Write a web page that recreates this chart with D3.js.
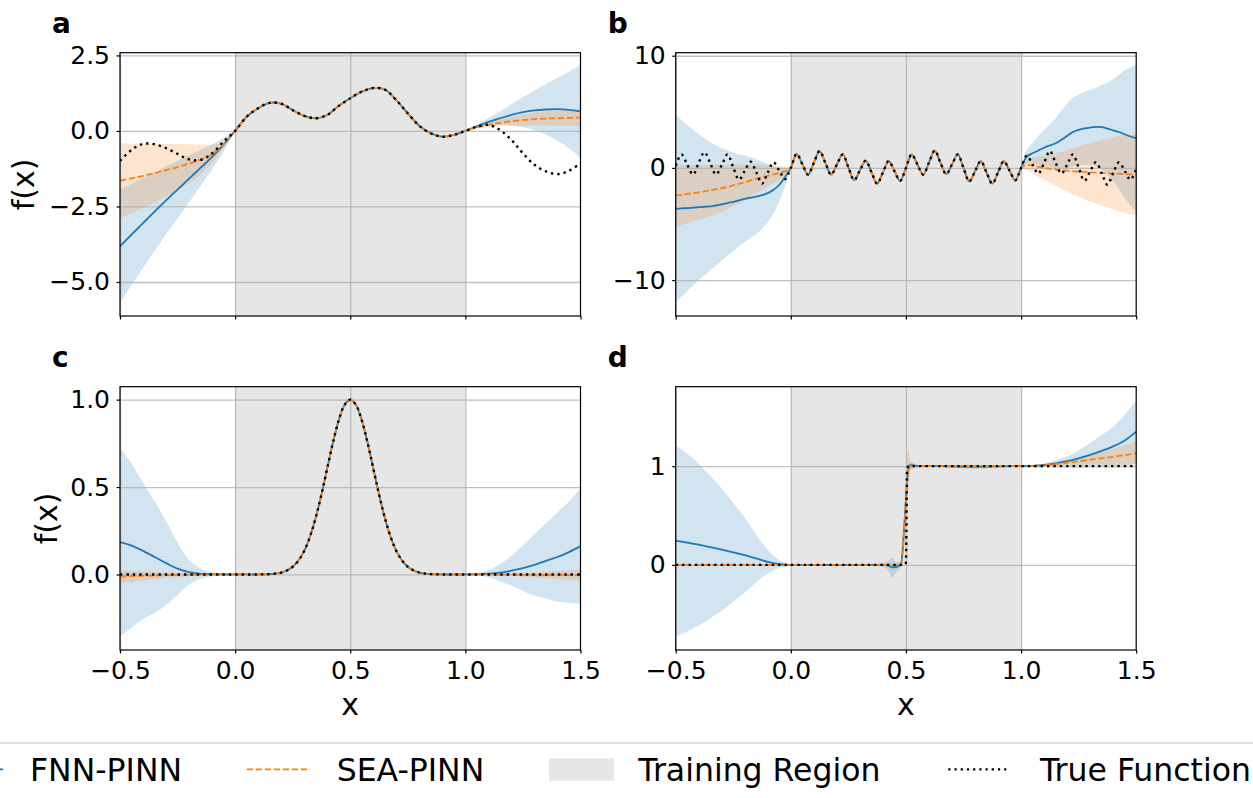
<!DOCTYPE html>
<html>
<head>
<meta charset="utf-8">
<script src="https://cdn.jsdelivr.net/npm/d3@7"></script>
<style>
  body { margin: 0; background: #fff; }
  text { font-family: "DejaVu Sans", sans-serif; }
</style>
</head>
<body>
<svg id="chart" width="1253" height="798"></svg>
<script>
// ---------- data ----------
const trainRegion = [0, 1];
const xTicks = [-0.5, 0, 0.5, 1, 1.5];
const legendLabels = ["FNN-PINN", "SEA-PINN", "Training Region", "True Function"];

// panel a
const xsA = [-0.5,-0.45,-0.4,-0.35,-0.3,-0.25,-0.2,-0.15,-0.1,-0.05,0,0.05,0.1,0.15,0.2,0.25,0.3,0.35,0.4,0.45,0.5,0.55,0.6,0.65,0.7,0.75,0.8,0.85,0.9,0.95,1,1.05,1.1,1.15,1.2,1.25,1.3,1.35,1.4,1.45,1.5];
const trueA = [-0.99,-0.63,-0.43,-0.44,-0.57,-0.76,-0.94,-0.96,-0.74,-0.35,
  0,0.47,0.75,0.93,0.9,0.69,0.5,0.42,0.53,0.83,
  1.08,1.3,1.42,1.37,1.02,0.58,0.17,-0.08,-0.19,-0.13,
  0,0.14,0.2,0.03,-0.3,-0.74,-1.12,-1.34,-1.43,-1.32,-1.07];
const fnnMeanA = [-3.82,-3.43,-3.05,-2.67,-2.3,-1.94,-1.58,-1.22,-0.86,-0.45,
  0,0.47,0.75,0.93,0.9,0.69,0.5,0.42,0.53,0.83,
  1.08,1.3,1.42,1.37,1.02,0.58,0.17,-0.08,-0.19,-0.13,
  0,0.15,0.3,0.42,0.53,0.62,0.68,0.71,0.72,0.7,0.65];
const fnnSdA = [1.88,1.68,1.49,1.3,1.12,0.95,0.78,0.6,0.42,0.22,
  0.02,0,0,0,0,0,0,0,0,0,
  0,0,0,0,0,0,0,0,0,0,
  0.01,0.05,0.12,0.22,0.35,0.5,0.66,0.84,1.04,1.27,1.53];
const seaMeanA = [-1.65,-1.57,-1.49,-1.4,-1.3,-1.2,-1.08,-0.95,-0.76,-0.45,
  0,0.47,0.75,0.93,0.9,0.69,0.5,0.42,0.53,0.83,
  1.08,1.3,1.42,1.37,1.02,0.58,0.17,-0.08,-0.19,-0.13,
  0,0.12,0.2,0.27,0.32,0.36,0.39,0.41,0.42,0.43,0.44];
const seaSdA = [1.25,1.15,1.06,0.97,0.87,0.77,0.64,0.5,0.3,0.1,
  0.02,0,0,0,0,0,0,0,0,0,
  0,0,0,0,0,0,0,0,0,0,
  0.01,0.03,0.07,0.11,0.15,0.18,0.21,0.23,0.25,0.27,0.29];

// panel b
const xsB = [-0.5,-0.475,-0.45,-0.425,-0.4,-0.375,-0.35,-0.325,-0.3,-0.275,-0.25,-0.225,-0.2,-0.175,-0.15,-0.125,-0.1,-0.075,-0.05,-0.025,
  0,0.025,0.05,0.075,0.1,0.125,0.15,0.175,0.2,0.225,0.25,0.275,0.3,0.325,0.35,0.375,0.4,0.425,0.45,0.475,
  0.5,0.525,0.55,0.575,0.6,0.625,0.65,0.675,0.7,0.725,0.75,0.775,0.8,0.825,0.85,0.875,0.9,0.925,0.95,0.975,
  1,1.025,1.05,1.075,1.1,1.125,1.15,1.175,1.2,1.225,1.25,1.275,1.3,1.325,1.35,1.375,1.4,1.425,1.45,1.475,
  1.5];
const trueB = [0.2,1.2,0.3,-0.6,0.45,1.4,0.42,-0.6,0.25,1.2,0.05,-1.05,-0.25,0.55,-0.4,-1.4,-0.4,0.5,-0.25,-1.0,
  0,1.25,0.33,-0.6,0.45,1.5,0.45,-0.6,0.3,1.2,0.05,-1.1,-0.22,0.65,-0.37,-1.4,-0.4,0.6,-0.28,-1.15,
  0,1.2,0.3,-0.6,0.48,1.55,0.45,-0.55,0.3,1.2,0,-1.2,-0.3,0.6,-0.4,-1.4,-0.4,0.6,-0.25,-1.1,
  0,1.1,0.3,-0.5,0.45,1.5,0.45,-0.5,0.28,1.2,0.02,-1.15,-0.3,0.5,-0.45,-1.5,-0.45,0.5,-0.25,-1.05,
  -0.1];
const fnnMeanB = [-3.65,-3.61,-3.58,-3.54,-3.5,-3.46,-3.43,-3.35,-3.25,-3.13,-3.02,-2.9,-2.75,-2.65,-2.55,-2.42,-2.25,-1.95,-1.5,-0.8,
  0,1.25,0.33,-0.6,0.45,1.5,0.45,-0.6,0.3,1.2,0.05,-1.1,-0.22,0.65,-0.37,-1.4,-0.4,0.6,-0.28,-1.15,
  0,1.2,0.3,-0.6,0.48,1.55,0.45,-0.55,0.3,1.2,0,-1.2,-0.3,0.6,-0.4,-1.4,-0.4,0.6,-0.25,-1.1,
  0,1.0,1.3,1.55,1.8,2.0,2.2,2.5,2.85,3.2,3.4,3.52,3.6,3.65,3.63,3.5,3.35,3.2,3.0,2.8,
  2.65];
const fnnSdB = [8.35,7.9,7.4,6.95,6.5,6.1,5.7,5.35,5.0,4.7,4.4,4.1,3.85,3.6,3.35,3.0,2.6,2.1,1.5,0.8,
  0.05,0,0,0,0,0,0,0,0,0,0,0,0,0,0,0,0,0,0,0,
  0,0,0,0,0,0,0,0,0,0,0,0,0,0,0,0,0,0,0,0,
  0.05,0.6,0.95,1.3,1.6,1.9,2.25,2.6,2.9,3.05,3.15,3.25,3.35,3.5,3.75,4.1,4.55,5.1,5.7,6.15,
  6.55];
const seaMeanB = [-2.45,-2.4,-2.33,-2.25,-2.18,-2.1,-2.0,-1.9,-1.8,-1.7,-1.55,-1.42,-1.28,-1.12,-0.96,-0.82,-0.7,-0.57,-0.45,-0.3,
  0,1.25,0.33,-0.6,0.45,1.5,0.45,-0.6,0.3,1.2,0.05,-1.1,-0.22,0.65,-0.37,-1.4,-0.4,0.6,-0.28,-1.15,
  0,1.2,0.3,-0.6,0.48,1.55,0.45,-0.55,0.3,1.2,0,-1.2,-0.3,0.6,-0.4,-1.4,-0.4,0.6,-0.25,-1.1,
  0,0.25,0.2,0.1,0,-0.08,-0.15,-0.2,-0.25,-0.3,-0.33,-0.36,-0.39,-0.42,-0.45,-0.48,-0.5,-0.53,-0.55,-0.58,
  -0.6];
const seaSdB = [2.75,2.68,2.6,2.52,2.45,2.37,2.3,2.2,2.1,1.98,1.85,1.72,1.58,1.42,1.26,1.1,0.95,0.8,0.65,0.4,
  0.05,0,0,0,0,0,0,0,0,0,0,0,0,0,0,0,0,0,0,0,
  0,0,0,0,0,0,0,0,0,0,0,0,0,0,0,0,0,0,0,0,
  0.05,0.45,0.7,0.9,1.05,1.25,1.45,1.65,1.85,2.05,2.25,2.45,2.6,2.75,2.9,3.05,3.2,3.35,3.47,3.55,
  3.63];

// panel c
const xsC = [-0.5,-0.45,-0.4,-0.35,-0.3,-0.25,-0.2,-0.15,-0.1,-0.05,0,0.05,0.1,
  0.125,0.15,0.175,0.2,0.225,0.25,0.275,0.3,0.325,0.35,0.375,0.4,0.425,0.45,0.475,0.5,
  0.525,0.55,0.575,0.6,0.625,0.65,0.675,0.7,0.725,0.75,0.775,0.8,0.825,0.85,0.875,
  0.9,0.95,1,1.05,1.1,1.15,1.2,1.25,1.3,1.35,1.4,1.45,1.5];
const trueC = [0,0,0,0,0,0,0,0,0,0,0,0,0,
  0.001,0.002,0.005,0.011,0.023,0.044,0.08,0.135,0.216,0.325,0.458,0.607,0.755,0.882,0.969,1,
  0.969,0.882,0.755,0.607,0.458,0.325,0.216,0.135,0.08,0.044,0.023,0.011,0.005,0.002,0.001,
  0,0,0,0,0,0,0,0,0,0,0,0,0];
const fnnMeanC = [0.185,0.165,0.135,0.1,0.065,0.033,0.013,0.004,0.001,0,0,0,0,
  0.001,0.002,0.005,0.011,0.023,0.044,0.08,0.135,0.216,0.325,0.458,0.607,0.755,0.882,0.969,1,
  0.969,0.882,0.755,0.607,0.458,0.325,0.216,0.135,0.08,0.044,0.023,0.011,0.005,0.002,0.001,
  0,0,0,0.001,0.004,0.01,0.022,0.036,0.055,0.078,0.1,0.128,0.162];
const fnnSdC = [0.54,0.47,0.39,0.32,0.24,0.15,0.07,0.03,0.01,0.003,0,0,0,
  0,0,0,0,0,0,0,0,0,0,0,0,0,0,0,0,
  0,0,0,0,0,0,0,0,0,0,0,0,0,0,0,
  0,0,0,0.005,0.02,0.05,0.085,0.13,0.175,0.215,0.255,0.29,0.33];
const seaMeanC = [-0.012,-0.01,-0.008,-0.006,-0.004,-0.003,-0.002,-0.001,0,0,0,0,0,
  0.001,0.002,0.005,0.011,0.023,0.044,0.08,0.135,0.216,0.325,0.458,0.607,0.755,0.882,0.969,1,
  0.969,0.882,0.755,0.607,0.458,0.325,0.216,0.135,0.08,0.044,0.023,0.011,0.005,0.002,0.001,
  0,0,0,0,0,-0.001,-0.001,-0.002,-0.002,-0.003,-0.003,-0.004,-0.004];
const seaSdC = [0.036,0.031,0.026,0.021,0.016,0.012,0.008,0.005,0.003,0.001,0,0,0,
  0,0,0,0,0,0,0,0,0,0,0,0,0,0,0,0,
  0,0,0,0,0,0,0,0,0,0,0,0,0,0,0,
  0,0,0,0.001,0.003,0.005,0.008,0.011,0.015,0.019,0.023,0.027,0.031];

// panel d
const xsD = [-0.5,-0.45,-0.4,-0.35,-0.3,-0.25,-0.2,-0.15,-0.1,-0.05,
  0,0.05,0.1,0.15,0.2,0.25,0.3,0.35,0.4,
  0.42,0.44,0.46,0.47,0.48,0.49,0.495,0.5,0.505,0.51,0.52,0.54,0.56,
  0.6,0.65,0.7,0.75,0.8,0.85,0.9,0.95,
  1,1.05,1.1,1.15,1.2,1.25,1.3,1.35,1.4,1.45,1.5];
const trueD = [0,0,0,0,0,0,0,0,0,0,
  0,0,0,0,0,0,0,0,0,
  0,0,0,0,0,0,0,0.02,0.97,1,1,1,1,
  1,1,1,1,1,1,1,1,
  1,1,1,1,1,1,1,1,1,1,1];
const fnnMeanD = [0.245,0.225,0.205,0.18,0.155,0.128,0.1,0.065,0.03,0.008,
  0,0,0,0,0,0,0,0,0,
  -0.005,-0.025,-0.02,-0.01,0.02,0.3,0.48,0.66,0.83,0.96,1.01,1.005,1.0,
  1,1,0.998,0.996,0.995,0.996,0.998,1,
  1,1.003,1.012,1.028,1.05,1.08,1.115,1.155,1.2,1.26,1.35];
const fnnSdD = [0.97,0.9,0.82,0.72,0.62,0.5,0.38,0.24,0.12,0.04,
  0.01,0.003,0.002,0.002,0.002,0.003,0.005,0.01,0.02,
  0.04,0.1,0.05,0.04,0.03,0.05,0.1,0.15,0.12,0.06,0.03,0.02,0.008,
  0.005,0.008,0.012,0.018,0.02,0.018,0.012,0.006,
  0.002,0.006,0.015,0.03,0.05,0.08,0.12,0.16,0.2,0.26,0.32];
const seaMeanD = [0,0,0,0,0,0,0,0,0,0,
  0,0,0,0,0,0,0,0,0,
  0,0,0,0,0.01,0.28,0.47,0.65,0.82,0.97,1.0,1,1,
  1,1,1,1,1,1,1,1,
  1,1.003,1.01,1.02,1.035,1.05,1.065,1.08,1.095,1.112,1.13];
const seaSdD = [0.006,0.005,0.004,0.003,0.002,0.002,0.001,0.001,0.001,0.001,
  0.001,0.001,0.001,0.001,0.001,0.001,0.001,0.001,0.001,
  0.002,0.003,0.005,0.01,0.03,0.1,0.3,0.35,0.3,0.2,0.05,0.01,0.003,
  0.002,0.002,0.002,0.002,0.002,0.002,0.002,0.002,
  0.002,0.005,0.01,0.018,0.028,0.04,0.053,0.067,0.082,0.1,0.12];

// ---------- layout ----------
const BLUE = "#1f77b4", ORANGE = "#ff7f0e";
const PW = 460.5, PH = 263.3;
const svg = d3.select("#chart");

const panels = [
  { name: "a", left: 120, top: 52.7, yDomain: [-6.126, 2.59], yTicks: [-5, -2.5, 0, 2.5], fmt: d3.format(".1f"),
    xs: xsA, truth: trueA, fm: fnnMeanA, fs: fnnSdA, sm: seaMeanA, ss: seaSdA,
    curve: d3.curveCatmullRom, xLabels: false, yLabelX: 34 },
  { name: "b", left: 675.7, top: 52.7, yDomain: [-13.2, 10.27], yTicks: [-10, 0, 10], fmt: d3.format("d"),
    xs: xsB, truth: trueB, fm: fnnMeanB, fs: fnnSdB, sm: seaMeanB, ss: seaSdB,
    curve: d3.curveCatmullRom, xLabels: false, yLabelX: null },
  { name: "c", left: 120, top: 386.7, yDomain: [-0.432, 1.074], yTicks: [0, 0.5, 1], fmt: d3.format(".1f"),
    xs: xsC, truth: trueC, fm: fnnMeanC, fs: fnnSdC, sm: seaMeanC, ss: seaSdC,
    curve: d3.curveCatmullRom, xLabels: true, yLabelX: 57 },
  { name: "d", left: 675.7, top: 386.7, yDomain: [-0.862, 1.805], yTicks: [0, 1], fmt: d3.format("d"),
    xs: xsD, truth: trueD, fm: fnnMeanD, fs: fnnSdD, sm: seaMeanD, ss: seaSdD,
    curve: d3.curveMonotoneX, xLabels: true, yLabelX: null }
];

function drawPanel(p) {
  const x = d3.scaleLinear().domain([-0.5, 1.5]).range([p.left, p.left + PW]);
  const y = d3.scaleLinear().domain(p.yDomain).range([p.top + PH, p.top]);
  const rows = p.xs.map((xv, i) => ({ x: xv, t: p.truth[i], fm: p.fm[i], fs: p.fs[i], sm: p.sm[i], ss: p.ss[i] }));

  svg.append("clipPath").attr("id", "clip-" + p.name)
    .append("rect").attr("x", p.left).attr("y", p.top).attr("width", PW).attr("height", PH);
  const g = svg.append("g").attr("clip-path", `url(#clip-${p.name})`);

  // uncertainty bands (mean +- spread)
  const band = (m, s) => d3.area()
    .x(d => x(d.x)).y0(d => y(d[m] - d[s])).y1(d => y(d[m] + d[s])).curve(p.curve);
  g.append("path").datum(rows).attr("d", band("fm", "fs")).attr("fill", BLUE).attr("fill-opacity", 0.2);
  g.append("path").datum(rows).attr("d", band("sm", "ss")).attr("fill", ORANGE).attr("fill-opacity", 0.2);

  // training region
  g.append("rect")
    .attr("x", x(trainRegion[0])).attr("width", x(trainRegion[1]) - x(trainRegion[0]))
    .attr("y", p.top).attr("height", PH)
    .attr("fill", "#808080").attr("fill-opacity", 0.2);

  // grid
  g.append("g").attr("transform", `translate(0,${p.top + PH})`)
    .call(d3.axisBottom(x).tickValues(xTicks).tickSize(-PH).tickFormat(""))
    .call(s => s.select(".domain").remove())
    .selectAll("line").attr("stroke", "#b0b0b0").attr("stroke-width", 1.3).attr("stroke-opacity", 0.8);
  g.append("g").attr("transform", `translate(${p.left},0)`)
    .call(d3.axisLeft(y).tickValues(p.yTicks).tickSize(-PW).tickFormat(""))
    .call(s => s.select(".domain").remove())
    .selectAll("line").attr("stroke", "#b0b0b0").attr("stroke-width", 1.3).attr("stroke-opacity", 0.8);

  // lines
  const line = k => d3.line().x(d => x(d.x)).y(d => y(d[k])).curve(p.curve);
  g.append("path").datum(rows).attr("d", line("fm"))
    .attr("fill", "none").attr("stroke", BLUE).attr("stroke-width", 1.8);
  g.append("path").datum(rows).attr("d", line("sm"))
    .attr("fill", "none").attr("stroke", ORANGE).attr("stroke-width", 1.8).attr("stroke-dasharray", "6.3,2.7");
  g.append("path").datum(rows).attr("d", line("t"))
    .attr("fill", "none").attr("stroke", "#000").attr("stroke-width", 2.4).attr("stroke-dasharray", "2.4,4");

  // spines
  svg.append("rect").attr("x", p.left).attr("y", p.top).attr("width", PW).attr("height", PH)
    .attr("fill", "none").attr("stroke", "#000").attr("stroke-width", 1.2);

  // axes
  const xAxis = svg.append("g").attr("transform", `translate(0,${p.top + PH})`)
    .call(d3.axisBottom(x).tickValues(xTicks).tickSize(3.5).tickPadding(8)
      .tickFormat(p.xLabels ? d3.format(".1f") : ""));
  const yAxis = svg.append("g").attr("transform", `translate(${p.left},0)`)
    .call(d3.axisLeft(y).tickValues(p.yTicks).tickSize(3.5).tickPadding(6.5).tickFormat(p.fmt));
  [xAxis, yAxis].forEach(a => {
    a.select(".domain").remove();
    a.attr("font-size", 25).attr("font-family", "DejaVu Sans, sans-serif");
    a.selectAll("line").attr("stroke", "#000").attr("stroke-width", 1.2);
    a.selectAll("text").attr("fill", "#000");
  });

  // panel letter
  svg.append("text").attr("x", p.left - 68).attr("y", p.top - 20)
    .attr("font-size", 28).attr("font-weight", "bold").text(p.name);

  if (p.yLabelX !== null) {
    svg.append("text")
      .attr("transform", `translate(${p.yLabelX},${p.top + PH / 2}) rotate(-90)`)
      .attr("text-anchor", "middle").attr("font-size", 30).text("f(x)");
  }
  if (p.xLabels) {
    svg.append("text").attr("x", p.left + PW / 2).attr("y", p.top + PH + 65)
      .attr("text-anchor", "middle").attr("font-size", 30).text("x");
  }
}

panels.forEach(drawPanel);

// ---------- legend ----------
const leg = svg.append("g");
leg.append("rect").attr("x", -20).attr("y", 743).attr("width", 1300).attr("height", 120)
  .attr("fill", "#fff").attr("stroke", "#d0d0d0").attr("stroke-width", 1.4);
const hy = 769.3, ty = 781;
const legendItems = [
  { x0: -60, x1: 3, tx: 30, draw: (s, a, b) => s.append("line").attr("x1", a).attr("x2", b).attr("y1", hy).attr("y2", hy)
      .attr("stroke", BLUE).attr("stroke-width", 1.8) },
  { x0: 246.7, x1: 310, tx: 336.7, draw: (s, a, b) => s.append("line").attr("x1", a).attr("x2", b).attr("y1", hy).attr("y2", hy)
      .attr("stroke", ORANGE).attr("stroke-width", 1.8).attr("stroke-dasharray", "6.3,2.7") },
  { x0: 549, x1: 614, tx: 638.3, draw: (s, a, b) => s.append("rect").attr("x", a).attr("y", 758.3).attr("width", b - a).attr("height", 22.4)
      .attr("fill", "#808080").attr("fill-opacity", 0.2) },
  { x0: 948.3, x1: 1010, tx: 1040, draw: (s, a, b) => s.append("line").attr("x1", a).attr("x2", b).attr("y1", hy).attr("y2", hy)
      .attr("stroke", "#000").attr("stroke-width", 2.2).attr("stroke-dasharray", "2.2,4") }
];
legendItems.forEach((it, i) => {
  it.draw(leg, it.x0, it.x1);
  leg.append("text").attr("x", it.tx).attr("y", ty).attr("font-size", 31.5).text(legendLabels[i]);
});
</script>
</body>
</html>
